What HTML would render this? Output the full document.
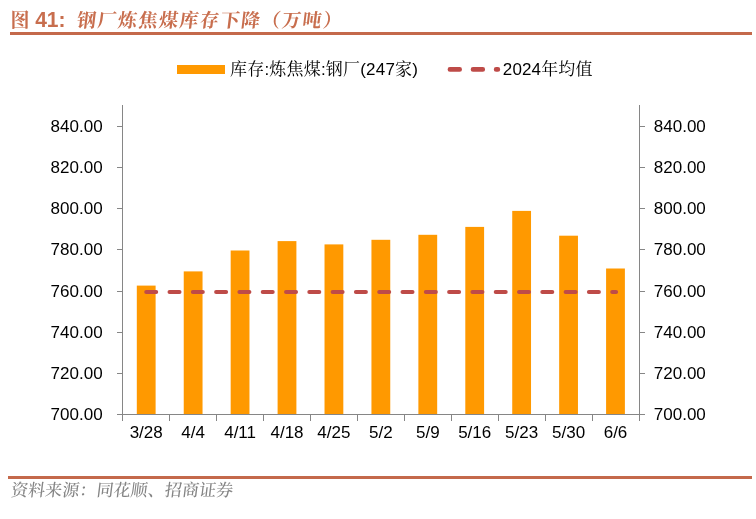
<!DOCTYPE html>
<html lang="zh-CN"><head><meta charset="utf-8"><title>图 41</title>
<style>
html,body{margin:0;padding:0;background:#fff;}
body{width:756px;height:519px;position:relative;overflow:hidden;font-family:"Liberation Sans","Noto Serif CJK SC",sans-serif;}
.title{position:absolute;left:0;top:7px;height:26px;line-height:26px;font-size:20px;font-weight:bold;color:#c86e4e;white-space:nowrap;font-family:"Liberation Sans","Noto Serif CJK SC",serif;}
.title span{position:absolute;top:0;white-space:nowrap;}
.t1{left:10.5px;font-size:19px;font-weight:700;top:1px !important;}
.t0{left:35.2px;top:0px !important;font-size:21px;display:inline-block;transform:scaleY(1.07);transform-origin:0 77%;}
.t2{left:77px;font-size:19px;font-weight:700;letter-spacing:1.5px;display:inline-block;transform:skewX(-7deg);transform-origin:0 50%;top:1px !important;}
.rule{position:absolute;left:10px;width:742px;height:3px;background:#c4694b;}
.src{position:absolute;left:11px;top:479.6px;height:22px;line-height:22px;font-size:17px;letter-spacing:0.1px;font-weight:500;color:#858585;white-space:nowrap;font-family:"Liberation Serif","Noto Serif CJK SC",serif;display:inline-block;transform:skewX(-7deg);transform-origin:0 50%;}
svg{position:absolute;left:0;top:0;}
svg text{font-family:"Liberation Sans","Noto Serif CJK SC",sans-serif;font-size:17px;fill:#000;}
</style></head><body>
<div class="title"><span class="t1">图</span><span class="t0">41:</span><span class="t2">钢厂炼焦煤库存下降（万吨）</span></div>
<div class="rule" style="top:32px"></div>
<div class="rule" style="top:476px;left:8px;width:744px"></div>
<div class="src">资料来源：同花顺、招商证券</div>
<svg width="756" height="519" viewBox="0 0 756 519">
<g fill="#ff9900">
<rect x="136.81" y="285.60" width="18.8" height="128.40"/>
<rect x="183.74" y="271.40" width="18.8" height="142.60"/>
<rect x="230.67" y="250.50" width="18.8" height="163.50"/>
<rect x="277.60" y="241.10" width="18.8" height="172.90"/>
<rect x="324.52" y="244.40" width="18.8" height="169.60"/>
<rect x="371.45" y="239.80" width="18.8" height="174.20"/>
<rect x="418.38" y="234.80" width="18.8" height="179.20"/>
<rect x="465.30" y="226.90" width="18.8" height="187.10"/>
<rect x="512.23" y="210.90" width="18.8" height="203.10"/>
<rect x="559.16" y="235.70" width="18.8" height="178.30"/>
<rect x="606.09" y="268.50" width="18.8" height="145.50"/>
</g>
<g stroke="#868686" stroke-width="1" fill="none" shape-rendering="crispEdges">
<line x1="122.5" y1="105" x2="122.5" y2="421"/>
<line x1="639.5" y1="105" x2="639.5" y2="421"/>
<line x1="117" y1="414.5" x2="645" y2="414.5"/>
<line x1="117" y1="126.5" x2="122" y2="126.5"/>
<line x1="640" y1="126.5" x2="645" y2="126.5"/>
<line x1="117" y1="167.5" x2="122" y2="167.5"/>
<line x1="640" y1="167.5" x2="645" y2="167.5"/>
<line x1="117" y1="208.5" x2="122" y2="208.5"/>
<line x1="640" y1="208.5" x2="645" y2="208.5"/>
<line x1="117" y1="249.5" x2="122" y2="249.5"/>
<line x1="640" y1="249.5" x2="645" y2="249.5"/>
<line x1="117" y1="291.5" x2="122" y2="291.5"/>
<line x1="640" y1="291.5" x2="645" y2="291.5"/>
<line x1="117" y1="332.5" x2="122" y2="332.5"/>
<line x1="640" y1="332.5" x2="645" y2="332.5"/>
<line x1="117" y1="373.5" x2="122" y2="373.5"/>
<line x1="640" y1="373.5" x2="645" y2="373.5"/>
<line x1="169.5" y1="414" x2="169.5" y2="421"/>
<line x1="216.5" y1="414" x2="216.5" y2="421"/>
<line x1="263.5" y1="414" x2="263.5" y2="421"/>
<line x1="310.5" y1="414" x2="310.5" y2="421"/>
<line x1="357.5" y1="414" x2="357.5" y2="421"/>
<line x1="404.5" y1="414" x2="404.5" y2="421"/>
<line x1="451.5" y1="414" x2="451.5" y2="421"/>
<line x1="498.5" y1="414" x2="498.5" y2="421"/>
<line x1="545.5" y1="414" x2="545.5" y2="421"/>
<line x1="592.5" y1="414" x2="592.5" y2="421"/>
</g>
<g stroke="#be4b48" stroke-width="4" stroke-linecap="round" stroke-dasharray="10 13.3" fill="none">
<line x1="146.21" y1="292" x2="616.09" y2="292"/>
</g>
<line x1="449.9" y1="69.4" x2="497.9" y2="69.4" stroke="#be4b48" stroke-width="4.6" stroke-linecap="round" stroke-dasharray="9.8 13.3" fill="none"/>
<rect x="177" y="65" width="48" height="9" fill="#ff9900"/>
<text x="230" y="75" letter-spacing="0.2">库存:炼焦煤:钢厂(247家)</text>
<text x="502.8" y="75" letter-spacing="0.15">2024年均值</text>
<text x="102.6" y="132.0" text-anchor="end">840.00</text>
<text x="653.8" y="132.0">840.00</text>
<text x="102.6" y="173.0" text-anchor="end">820.00</text>
<text x="653.8" y="173.0">820.00</text>
<text x="102.6" y="214.0" text-anchor="end">800.00</text>
<text x="653.8" y="214.0">800.00</text>
<text x="102.6" y="255.0" text-anchor="end">780.00</text>
<text x="653.8" y="255.0">780.00</text>
<text x="102.6" y="297.0" text-anchor="end">760.00</text>
<text x="653.8" y="297.0">760.00</text>
<text x="102.6" y="338.0" text-anchor="end">740.00</text>
<text x="653.8" y="338.0">740.00</text>
<text x="102.6" y="379.0" text-anchor="end">720.00</text>
<text x="653.8" y="379.0">720.00</text>
<text x="102.6" y="420.0" text-anchor="end">700.00</text>
<text x="653.8" y="420.0">700.00</text>
<text x="146.2" y="438.4" text-anchor="middle">3/28</text>
<text x="193.1" y="438.4" text-anchor="middle">4/4</text>
<text x="240.1" y="438.4" text-anchor="middle">4/11</text>
<text x="287.0" y="438.4" text-anchor="middle">4/18</text>
<text x="333.9" y="438.4" text-anchor="middle">4/25</text>
<text x="380.9" y="438.4" text-anchor="middle">5/2</text>
<text x="427.8" y="438.4" text-anchor="middle">5/9</text>
<text x="474.7" y="438.4" text-anchor="middle">5/16</text>
<text x="521.6" y="438.4" text-anchor="middle">5/23</text>
<text x="568.6" y="438.4" text-anchor="middle">5/30</text>
<text x="615.5" y="438.4" text-anchor="middle">6/6</text>
</svg></body></html>
